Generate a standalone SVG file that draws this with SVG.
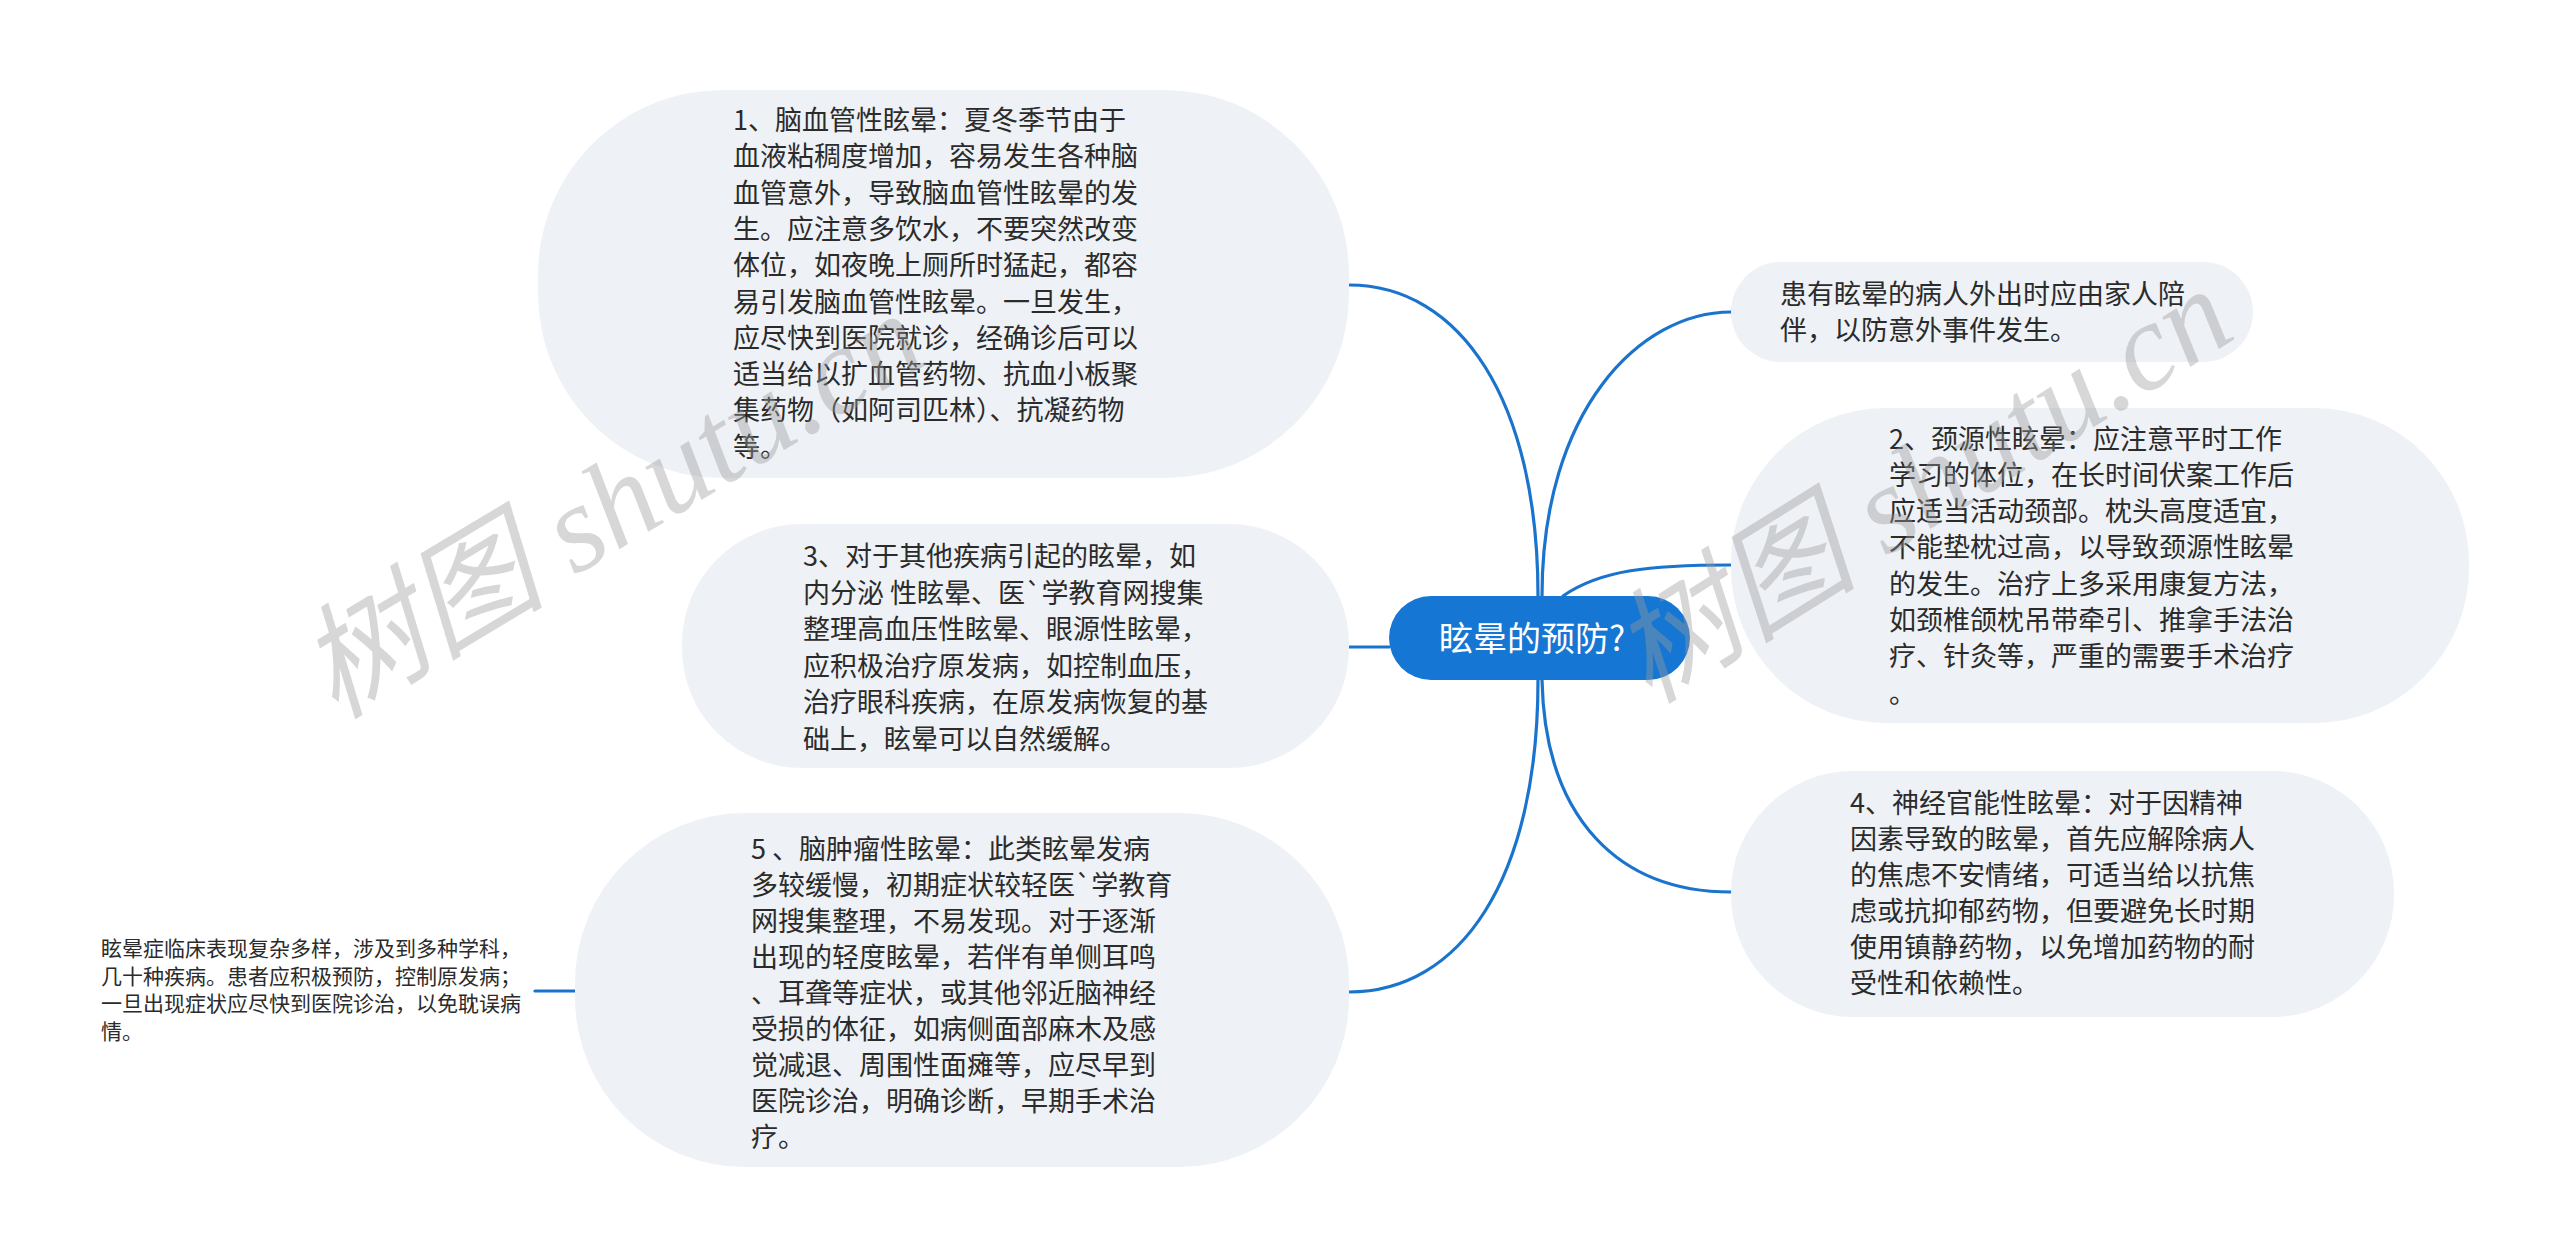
<svg xmlns="http://www.w3.org/2000/svg" width="2560" height="1259" viewBox="0 0 2560 1259">
<style>
.bg{fill:#ffffff}
.node{fill:#eef1f5}
.root{fill:#1577d3}
.t{font-family:"Noto Sans CJK SC","Noto Sans",sans-serif;font-size:27px;fill:#2b2b2b}
.ts{font-family:"Noto Sans CJK SC","Noto Sans",sans-serif;font-size:21px;fill:#2b2b2b}
.tr{font-family:"Noto Sans CJK SC","Noto Sans",sans-serif;font-size:34px;fill:#ffffff}
.c{fill:none;stroke:#1a73cc;stroke-width:3.2;stroke-linecap:round}
.wm{font-family:"Liberation Serif","Noto Sans CJK SC",serif;font-style:italic;font-size:124px;fill:#9a9a9a;fill-opacity:0.4}
</style>
<rect class="bg" x="0" y="0" width="2560" height="1259"/>
<g id="connectors">
<path class="c" d="M1538,596 C1538,400 1460,285 1349,285"/>
<path class="c" d="M1389,647 L1349,647"/>
<path class="c" d="M1538,680 C1538,880 1460,992 1349,992"/>
<path class="c" d="M1542,596 C1542,410 1640,312 1731,312"/>
<path class="c" d="M1563,596 C1600,570 1650,565 1731,565"/>
<path class="c" d="M1542,680 C1545,820 1620,892 1731,892"/>
<path class="c" d="M575,991 L535,991"/>
</g>
<g id="root">
<rect class="root" x="1389" y="596" width="301" height="84" rx="42" ry="42"/>
<text class="tr" x="1532" y="651" text-anchor="middle">眩晕的预防?</text>
</g>
<g id="node1">
<rect class="node" x="538" y="90" width="811" height="388" rx="185" ry="185"/>
<text class="t">
<tspan x="733" y="130">1、脑血管性眩晕：夏冬季节由于</tspan>
<tspan x="733" y="166.3">血液粘稠度增加，容易发生各种脑</tspan>
<tspan x="733" y="202.6">血管意外，导致脑血管性眩晕的发</tspan>
<tspan x="733" y="238.9">生。应注意多饮水，不要突然改变</tspan>
<tspan x="733" y="275.2">体位，如夜晚上厕所时猛起，都容</tspan>
<tspan x="733" y="311.5">易引发脑血管性眩晕。一旦发生，</tspan>
<tspan x="733" y="347.8">应尽快到医院就诊，经确诊后可以</tspan>
<tspan x="733" y="384.1">适当给以扩血管药物、抗血小板聚</tspan>
<tspan x="733" y="420.4">集药物（如阿司匹林）、抗凝药物</tspan>
<tspan x="733" y="456.7">等。</tspan>
</text>
</g>
<g id="node3">
<rect class="node" x="682" y="524" width="667" height="244" rx="120" ry="120"/>
<text class="t">
<tspan x="803" y="566">3、对于其他疾病引起的眩晕，如</tspan>
<tspan x="803" y="602.6">内分泌 性眩晕、医`学教育网搜集</tspan>
<tspan x="803" y="639.2">整理高血压性眩晕、眼源性眩晕，</tspan>
<tspan x="803" y="675.8">应积极治疗原发病，如控制血压，</tspan>
<tspan x="803" y="712.4">治疗眼科疾病，在原发病恢复的基</tspan>
<tspan x="803" y="749">础上，眩晕可以自然缓解。</tspan>
</text>
</g>
<g id="node5">
<rect class="node" x="575" y="813" width="774" height="354" rx="170" ry="170"/>
<text class="t">
<tspan x="751" y="858.5">5 、脑肿瘤性眩晕：此类眩晕发病</tspan>
<tspan x="751" y="894.6">多较缓慢，初期症状较轻医`学教育</tspan>
<tspan x="751" y="930.7">网搜集整理，不易发现。对于逐渐</tspan>
<tspan x="751" y="966.8">出现的轻度眩晕，若伴有单侧耳鸣</tspan>
<tspan x="751" y="1002.9">、耳聋等症状，或其他邻近脑神经</tspan>
<tspan x="751" y="1039">受损的体征，如病侧面部麻木及感</tspan>
<tspan x="751" y="1075.1">觉减退、周围性面瘫等，应尽早到</tspan>
<tspan x="751" y="1111.2">医院诊治，明确诊断，早期手术治</tspan>
<tspan x="751" y="1147.3">疗。</tspan>
</text>
</g>
<g id="summary">
<text class="ts">
<tspan x="101" y="956">眩晕症临床表现复杂多样，涉及到多种学科，</tspan>
<tspan x="101" y="983.7">几十种疾病。患者应积极预防，控制原发病；</tspan>
<tspan x="101" y="1011.4">一旦出现症状应尽快到医院诊治，以免耽误病</tspan>
<tspan x="101" y="1039.1">情。</tspan>
</text>
</g>
<g id="nodeA">
<rect class="node" x="1731" y="262" width="522" height="100" rx="50" ry="50"/>
<text class="t">
<tspan x="1780" y="304">患有眩晕的病人外出时应由家人陪</tspan>
<tspan x="1780" y="340">伴，以防意外事件发生。</tspan>
</text>
</g>
<g id="node2">
<rect class="node" x="1731" y="408" width="738" height="315" rx="155" ry="155"/>
<text class="t">
<tspan x="1889" y="448.5">2、颈源性眩晕：应注意平时工作</tspan>
<tspan x="1889" y="484.8">学习的体位，在长时间伏案工作后</tspan>
<tspan x="1889" y="521.1">应适当活动颈部。枕头高度适宜，</tspan>
<tspan x="1889" y="557.4">不能垫枕过高，以导致颈源性眩晕</tspan>
<tspan x="1889" y="593.7">的发生。治疗上多采用康复方法，</tspan>
<tspan x="1889" y="630">如颈椎颌枕吊带牵引、推拿手法治</tspan>
<tspan x="1889" y="666.3">疗、针灸等，严重的需要手术治疗</tspan>
<tspan x="1889" y="702.6">。</tspan>
</text>
</g>
<g id="node4">
<rect class="node" x="1731" y="771" width="663" height="246" rx="122" ry="122"/>
<text class="t">
<tspan x="1850" y="812.5">4、神经官能性眩晕：对于因精神</tspan>
<tspan x="1850" y="848.5">因素导致的眩晕，首先应解除病人</tspan>
<tspan x="1850" y="884.5">的焦虑不安情绪，可适当给以抗焦</tspan>
<tspan x="1850" y="920.5">虑或抗抑郁药物，但要避免长时期</tspan>
<tspan x="1850" y="956.5">使用镇静药物，以免增加药物的耐</tspan>
<tspan x="1850" y="992.5">受性和依赖性。</tspan>
</text>
</g>
<g id="watermark">
<text class="wm" transform="translate(335,720) rotate(-31)">树图 shutu.cn</text>
<text class="wm" transform="translate(1649,705) rotate(-32)">树图 shutu.cn</text>
</g>
</svg>
